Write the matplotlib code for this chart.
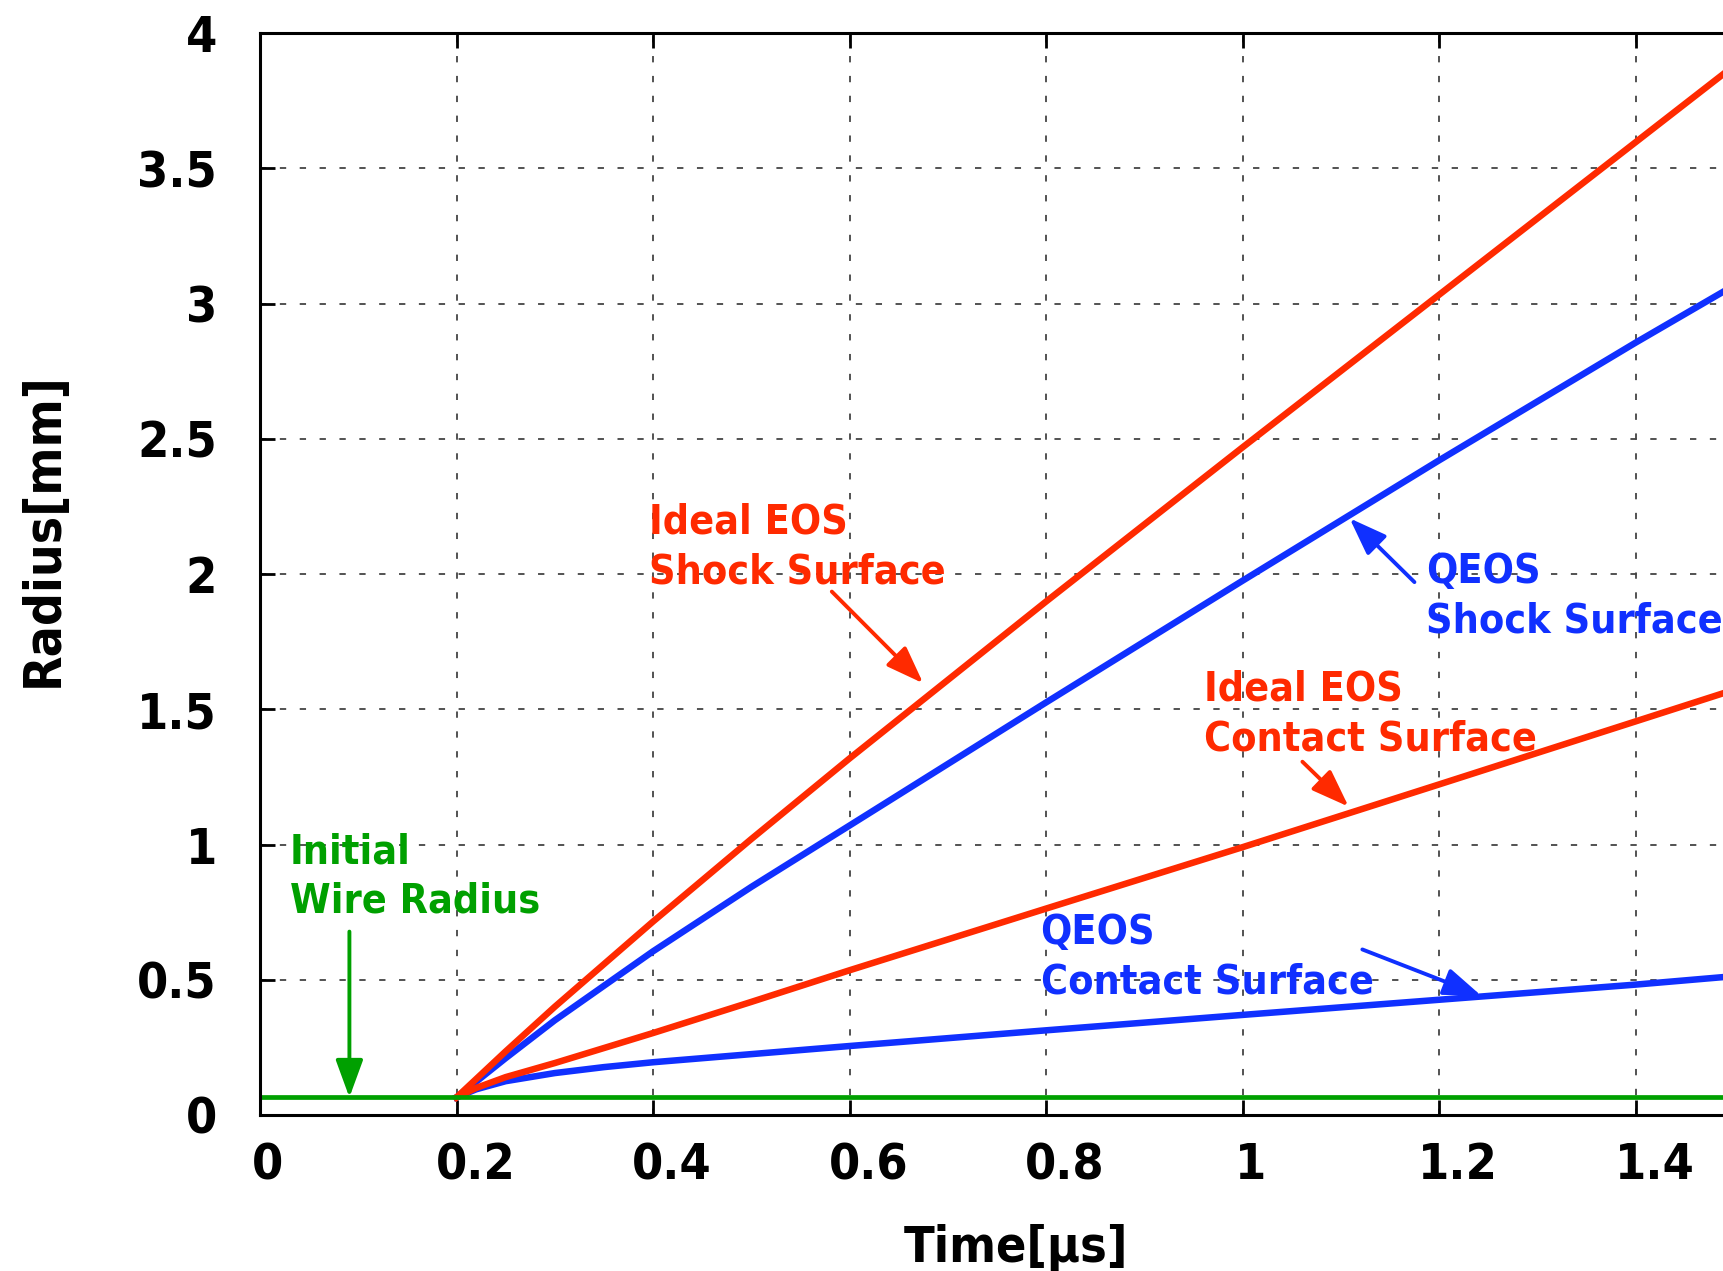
import matplotlib
matplotlib.use("Agg")
import matplotlib.pyplot as plt
from matplotlib.transforms import ScaledTranslation

# ---------------- data ----------------
t_ideal_shock = [0.2, 0.25, 0.3, 0.4, 0.5, 0.6, 0.8, 1.0, 1.2, 1.4, 1.49]
r_ideal_shock = [0.065, 0.235, 0.40, 0.715, 1.02, 1.318, 1.898, 2.468, 3.032, 3.596, 3.85]

t_qeos_shock = [0.2, 0.25, 0.3, 0.4, 0.5, 0.6, 0.8, 1.0, 1.2, 1.4, 1.49]
r_qeos_shock = [0.065, 0.21, 0.35, 0.605, 0.843, 1.07, 1.525, 1.975, 2.42, 2.855, 3.045]

t_ideal_contact = [0.2, 0.22, 0.25, 0.3, 0.4, 0.5, 0.6, 0.8, 1.0, 1.2, 1.4, 1.49]
r_ideal_contact = [0.065, 0.10, 0.14, 0.192, 0.303, 0.418, 0.535, 0.763, 0.99, 1.222, 1.455, 1.56]

t_qeos_contact = [0.2, 0.22, 0.25, 0.3, 0.35, 0.4, 0.5, 0.6, 0.8, 1.0, 1.2, 1.4, 1.49]
r_qeos_contact = [0.065, 0.095, 0.125, 0.155, 0.177, 0.195, 0.225, 0.255, 0.313, 0.37, 0.426, 0.482, 0.51]

t_wire = [0.0, 1.6]
r_wire = [0.065, 0.065]

xticks = [0, 0.2, 0.4, 0.6, 0.8, 1.0, 1.2, 1.4]
xtick_labels = ["0", "0.2", "0.4", "0.6", "0.8", "1", "1.2", "1.4"]
yticks = [0, 0.5, 1, 1.5, 2, 2.5, 3, 3.5, 4]
ytick_labels = ["0", "0.5", "1", "1.5", "2", "2.5", "3", "3.5", "4"]

RED = "#FF2A00"
BLUE = "#1030FF"
GREEN = "#00A000"

FONT = dict(family="DejaVu Sans", weight="bold", stretch="condensed")

fig = plt.figure(figsize=(17.23, 12.71), dpi=100)
ax = fig.add_axes([260 / 1723, 156 / 1271, (1832 - 260) / 1723, (1115 - 33) / 1271])

ax.set_xlim(0, 1.6)
ax.set_ylim(0, 4)

# grid
ax.grid(True, color="#444444", linewidth=1.3, linestyle=(0, (3.5, 7.5)))
ax.set_axisbelow(True)

# curves
LW = 4.7
ax.plot(t_qeos_shock, r_qeos_shock, color=BLUE, lw=LW, solid_joinstyle="round")
ax.plot(t_qeos_contact, r_qeos_contact, color=BLUE, lw=LW, solid_joinstyle="round")
ax.plot(t_ideal_shock, r_ideal_shock, color=RED, lw=LW, solid_joinstyle="round")
ax.plot(t_ideal_contact, r_ideal_contact, color=RED, lw=LW, solid_joinstyle="round")
ax.plot(t_wire, r_wire, color=GREEN, lw=3.4)

# spines / ticks
for s in ax.spines.values():
    s.set_linewidth(2.2)
ax.tick_params(direction="in", length=11, width=2.0, top=True, right=True,
               pad=19)
ax.tick_params(axis="y", pad=31)
ax.set_xticks(xticks, xtick_labels)
ax.set_yticks(yticks, ytick_labels)
for lab in ax.get_xticklabels() + ax.get_yticklabels():
    lab.set_fontsize(36)
    lab.set_fontweight("bold")
    lab.set_fontstretch("condensed")
for lab in ax.get_xticklabels():
    dx = 8 if len(lab.get_text()) == 1 else 19
    lab.set_transform(lab.get_transform() + ScaledTranslation(dx / 100, 0, fig.dpi_scale_trans))

# axis labels
ax.set_xlabel("Time[μs]", fontsize=36, **FONT)
ax.xaxis.label.set_va("baseline")
ax.xaxis.set_label_coords(0.769 / 1.6, -0.1354)
ax.set_ylabel("Radius[mm]", fontsize=37, **FONT)
ax.yaxis.label.set_va("center")
ax.yaxis.set_label_coords(-0.1374, 0.541)

# annotations (y = baseline of the last line)
def note(x, y, s, c):
    ax.text(x, y, s, color=c, fontsize=29.5, va="baseline", ha="left",
            linespacing=1.3, **FONT)

def arrow(tail, tip, c):
    ax.annotate("", xy=tip, xytext=tail,
                arrowprops=dict(arrowstyle="-|>,head_length=1.15,head_width=0.42",
                                mutation_scale=20, color=c, lw=2.8,
                                shrinkA=0, shrinkB=0))

note(0.3956, 1.966, "Ideal EOS\nShock Surface", RED)
arrow((0.582, 1.935), (0.675, 1.596), RED)

note(1.187, 1.783, "QEOS\nShock Surface", BLUE)
arrow((1.175, 1.97), (1.109, 2.206), BLUE)

note(0.9605, 1.349, "Ideal EOS\nContact Surface", RED)
arrow((1.061, 1.306), (1.108, 1.140), RED)

note(0.7945, 0.450, "QEOS\nContact Surface", BLUE)
arrow((1.122, 0.612), (1.243, 0.441), BLUE)

note(0.0305, 0.748, "Initial\nWire Radius", GREEN)
arrow((0.091, 0.678), (0.091, 0.065), GREEN)

fig.savefig("out.png", dpi=100, facecolor="white")
